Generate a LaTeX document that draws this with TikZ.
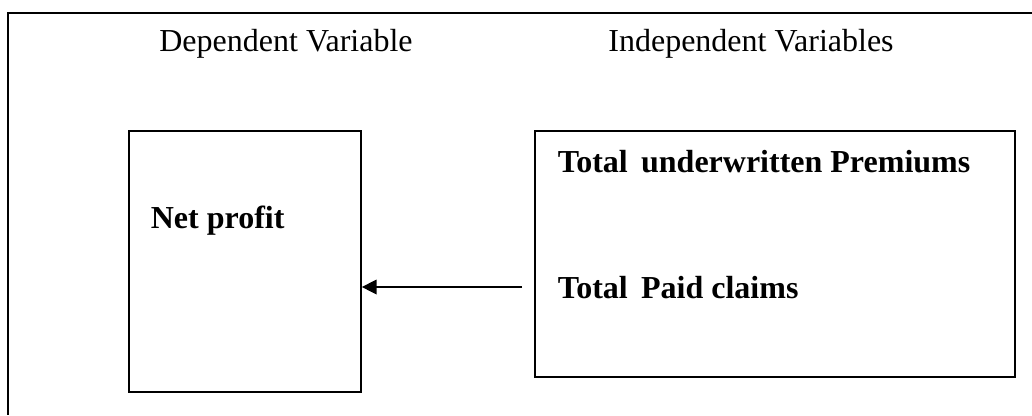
\documentclass[tikz,border=0pt]{standalone}
\usepackage{fontspec}
\setmainfont{Liberation Serif}
\usepackage{tikz}
\usetikzlibrary{positioning,arrows.meta}

\begin{document}
\begin{tikzpicture}[x=0.75pt,y=-0.75pt,line width=1.3pt,
    varbox/.style={draw,minimum width=#1,inner sep=0pt},
    head/.style={font=\fontsize{24}{28}\selectfont,inner sep=0pt,anchor=base},
    item/.style={font=\fontsize{24}{28}\selectfont\bfseries,inner sep=0pt,anchor=base west}]
       \useasboundingbox (0,0) rectangle (1032,415);
       % frame, only top and left side show
       \draw (1032,13) -- (8,13) -- (8,415);
       \node[head] (Dep) at (286,51) {Dependent Variable};
       \node[head] (Indep) at (751,51) {Independent Variables};
       \node[varbox=174pt,minimum height=195.75pt] (Profit) at (245,261.5) {};
       \node[varbox=360pt,minimum height=184.5pt] (Factors) at (775,254) {};
       \node[item] (NetP) at (150,228) {Net profit};
       \node[item] (Prem) at (557,172) {Total\, underwritten Premiums};
       \node[item] (Claims) at (557,298) {Total\, Paid claims};
       \coordinate (Src) at ([xshift=-9pt]Factors.west |- 0,287);
       \draw[line width=1pt,-{Triangle[length=11pt,width=11pt]}] (Src) -- (Profit.east |- Src);
\end{tikzpicture}
\end{document}
